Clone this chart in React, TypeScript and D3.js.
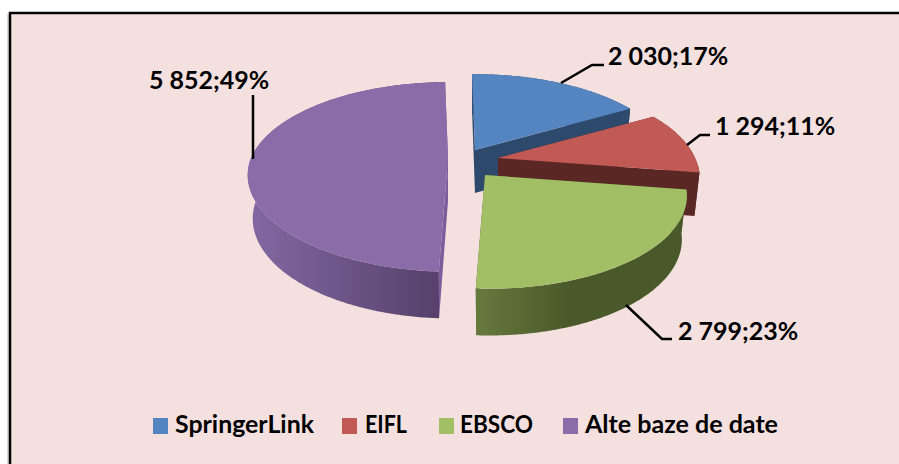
import React from 'react'
import * as d3 from 'd3'

const categories = ['SpringerLink', 'EIFL', 'EBSCO', 'Alte baze de date']
const values = [2030, 1294, 2799, 5852]
const valueLabels = ['2 030', '1 294', '2 799', '5 852']
const percentLabels = ['17%', '11%', '23%', '49%']

const topColors = ['#5585c1', '#c15a55', '#a2bf65', '#8a6ca8']
const cutColors = ['#2d4a6c', '#5a2724', '#4b5a2c', '#7a5f9c']
const rimColors = [
  ['#2d4a6c', '#2d4a6c'],
  ['#5a2724', '#5a2724'],
  ['#66793d', '#4a592a'],
  ['#8269a3', '#54406a'],
]

// exploded slice centres
const centers: [number, number][] = [[475, 150], [498, 158], [485, 175], [448, 158]]

const legendSwatchX = [153, 342, 439, 563]
const legendTextX = [175, 365, 460, 585]
const legendTextW = [139, 42, 73, 193]
const labelPos: [number, number][] = [[608, 65], [715, 135], [678, 340], [149, 89]]
const leaders: [number, number][][] = [
  [[561, 83], [592, 65], [604, 65]],
  [[687, 145], [700, 135], [710, 135]],
  [[626, 305], [662, 339], [672, 339]],
  [[253, 159], [253, 95]],
]

const W = 899
const H = 464
const RX = 197
const RY = 91
const K = 0.2
const ROT = (-1 * Math.PI) / 180
const FRONT_SHEAR = 4 // front of the disk leans right a little in the original
const LOW_SCALE = 0.975 // lower disk is farther from the eye

const persp = (v: number) => 1 / (1 + K * v)

// disk point -> screen, angle clockwise from the top
function project(c: [number, number], a: number, r: number, down = false): [number, number] {
  const u = Math.sin(a + ROT) * r
  const v = Math.cos(a + ROT) * r
  const p = persp(v)
  const depth = down ? 28 + 15 * p : 0
  const scale = down ? LOW_SCALE : 1
  return [c[0] + RX * u * p * scale + FRONT_SHEAR * Math.max(0, -v), c[1] - RY * v * p + depth]
}

const line = d3.line()

export default function App() {
  const arcs = d3.pie<number>().sort(null)(values)

  return (
    <svg
      width={W}
      height={H}
      style={{ position: 'absolute', left: 0, top: 0, fontFamily: 'Lato', fontWeight: 700 }}
    >
      <defs>
        {arcs.map((d, i) => {
          const xs = d3.range(d.startAngle, d.endAngle, 0.02).map(a => project(centers[i], a, 1)[0])
          return (
            <linearGradient
              key={i}
              id={'rim' + i}
              gradientUnits="userSpaceOnUse"
              x1={d3.min(xs)}
              x2={i === 2 ? d3.min(xs)! + 90 : d3.max(xs)}
              y1={0}
              y2={0}
            >
              <stop offset="0" stopColor={rimColors[i][0]} />
              <stop offset="1" stopColor={rimColors[i][1]} />
            </linearGradient>
          )
        })}
      </defs>
      <rect x={0} y={0} width={W} height={H} fill="#fff" />
      <rect x={7} y={14} width={3} height={H} fill="#d8d8d0" />
      <rect x={10} y={13} width={W} height={H} fill="#f4e0df" stroke="#000" strokeWidth={2.5} />

      {arcs.map((d, i) => {
        const c = centers[i]
        const angles = d3.range(d.startAngle, d.endAngle, 0.01).concat(d.endAngle)
        const topRim = angles.map(a => project(c, a, 1))
        const lowRim = angles.map(a => project(c, a, 1, true)).reverse()
        const apex = project(c, 0, 0)
        const apexLow = project(c, 0, 0, true)
        const wall = (a: number) => [apex, project(c, a, 1), project(c, a, 1, true), apexLow] as [number, number][]
        return (
          <g key={i}>
            <path d={line(wall(d.startAngle))! + 'Z'} fill={cutColors[i]} />
            <path d={line(wall(d.endAngle))! + 'Z'} fill={cutColors[i]} />
            <path d={line(topRim.concat(lowRim))! + 'Z'} fill={`url(#rim${i})`} />
            <path d={line([apex, ...topRim])! + 'Z'} fill={topColors[i]} />
          </g>
        )
      })}

      {leaders.map((pts, i) => (
        <path key={i} d={line(pts)!} fill="none" stroke="#000" strokeWidth={2.5} />
      ))}

      {categories.map((c, i) => (
        <text key={c} x={labelPos[i][0]} y={labelPos[i][1]} fontSize={25} fill="#000">
          {valueLabels[i]};{percentLabels[i]}
        </text>
      ))}

      {categories.map((c, i) => (
        <g key={c}>
          <rect x={legendSwatchX[i]} y={418} width={15} height={16} fill={topColors[i]} />
          <text
            x={legendTextX[i]}
            y={433}
            fontSize={25}
            fill="#000"
            textLength={legendTextW[i]}
            lengthAdjust="spacingAndGlyphs"
          >
            {c}
          </text>
        </g>
      ))}
    </svg>
  )
}
